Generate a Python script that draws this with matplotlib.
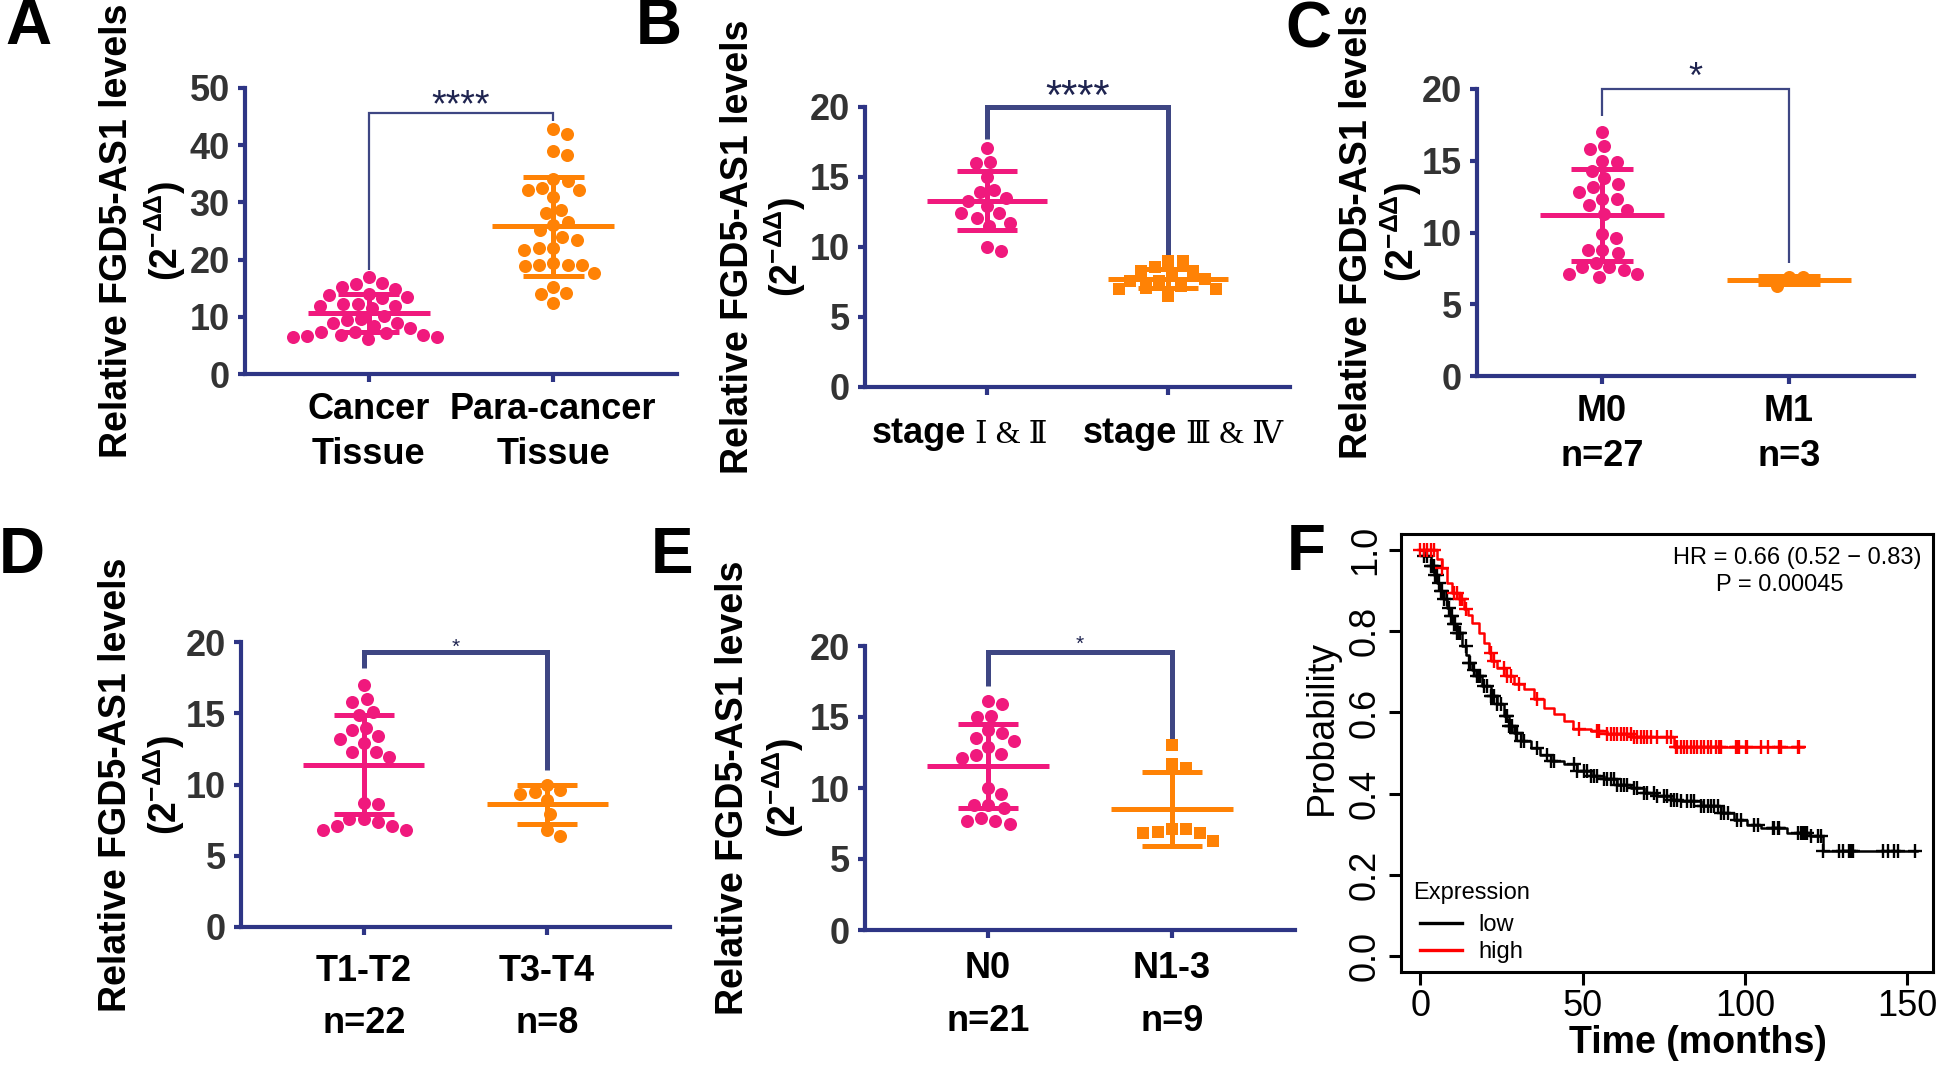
#!/usr/bin/env python3
"""
FGD5-AS1 expression dot plots (A-E) and Kaplan-Meier survival curve (F).
Output: out.png
"""
import numpy as np
import matplotlib
matplotlib.use("Agg")
import matplotlib.pyplot as plt
from matplotlib import font_manager
from matplotlib.lines import Line2D

# ---------------- values ----------------
# A: cancer vs para-cancer tissue
A_LABELS = ["Cancer\nTissue", "Para-cancer\nTissue"]
A_CANCER = [16.9, 15.2, 15.9, 14.9, 15.8, 14.0, 13.2, 13.8, 13.5, 12.3, 11.9, 11.5,
            11.9, 12.3, 10.2, 9.7, 9.5, 8.9, 8.4, 8.9, 8.0, 7.4, 7.1, 6.8, 6.4, 6.1,
            6.4, 6.7, 6.8, 7.4]
A_PARA = [42.8, 41.9, 38.9, 38.2, 33.7, 34.1, 32.2, 32.1, 32.5, 30.9, 28.2, 28.7,
          26.5, 26.0, 25.2, 24.0, 23.5, 22.0, 21.6, 22.0, 19.4, 19.1, 19.0, 17.6,
          18.8, 19.1, 14.1, 14.0, 15.2, 12.5]
A_MEAN = [10.7, 25.8]
A_SD = [3.35, 8.6]
A_BRACKET = [45.7, 18.2, 44.2]      # bar height, left leg end, right leg end
A_SIG = "****"

# B: clinical stage
B_LABELS = [("stage", "Ⅰ & Ⅱ"), ("stage", "Ⅲ & Ⅳ")]
B_EARLY = [17.1, 16.0, 16.1, 15.0, 14.1, 13.5, 13.9, 12.9, 13.3, 12.4, 12.1, 12.4,
           11.7, 11.5, 10.0, 9.7]
B_LATE = [9.0, 9.0, 8.6, 8.3, 8.3, 7.6, 7.6, 8.0, 7.7, 7.1, 7.2, 7.0, 7.0, 6.5]
B_MEAN = [13.3, 7.75]
B_SD = [2.1, 0.65]
B_BRACKET = [20.0, 17.7, 9.3]
B_SIG = "****"

# C: distant metastasis
C_LABELS = ["M0\nn=27", "M1\nn=3"]
C_M0 = [17.0, 15.8, 16.0, 14.9, 15.0, 13.4, 14.3, 13.8, 12.8, 13.2, 12.3, 12.3,
        11.6, 11.9, 11.3, 9.9, 9.6, 8.8, 8.6, 8.8, 7.9, 7.6, 7.6, 7.1, 6.9, 7.1, 7.4]
C_M1 = [6.9, 6.9, 6.3]
C_MEAN = [11.2, 6.7]
C_SD = [3.2, 0.3]
C_BRACKET = [20.0, 18.1, 7.9]
C_SIG = "*"

# D: T stage
D_LABELS = ["T1-T2\nn=22", "T3-T4\nn=8"]
D_T12 = [17.0, 15.8, 16.0, 14.9, 15.1, 14.0, 13.8, 13.4, 13.2, 12.9, 12.3, 12.3,
         11.9, 8.7, 8.6, 7.6, 7.4, 7.6, 7.1, 6.8, 6.8, 7.1]
D_T34 = [9.6, 10.0, 9.3, 9.5, 8.9, 7.9, 6.8, 6.4]
D_MEAN = [11.4, 8.6]
D_SD = [3.5, 1.4]
D_BRACKET = [19.3, 18.2, 11.0]
D_SIG = "*"

# E: lymph node status
E_LABELS = ["N0\nn=21", "N1-3\nn=9"]
E_N0 = [15.9, 16.1, 15.0, 15.1, 14.1, 13.9, 13.5, 13.3, 12.9, 12.4, 12.1, 12.3,
        10.0, 9.6, 8.8, 8.8, 8.6, 7.9, 7.7, 7.5, 7.7]
E_N13 = [13.0, 11.7, 11.4, 7.1, 6.8, 6.9, 6.8, 7.1, 6.3]
E_MEAN = [11.55, 8.55]
E_SD = [2.95, 2.6]
E_BRACKET = [19.6, 17.2, 13.4]
E_SIG = "*"

# F: Kaplan-Meier, low vs high expression (months, survival probability)
LOW_T = [0, 1.0, 3.1, 4.2, 5.2, 6.2, 7.2, 8.3, 9.3, 10.3, 11.3, 12.9, 14.0, 14.9,
         16.0, 17.0, 19.0, 21.6, 23.7, 25.7, 27.3, 28.8, 30.9, 34.0, 37.0, 40.1,
         44.2, 48.4, 52.5, 56.6, 60.7, 64.8, 68.9, 73.0, 77.2, 80.2, 86.4, 92.6,
         96.7, 100.8, 104.9, 113.1, 120.0, 124.0]
LOW_S = [1.0, 0.985, 0.961, 0.94, 0.92, 0.90, 0.879, 0.858, 0.838, 0.818, 0.797,
         0.764, 0.742, 0.723, 0.705, 0.69, 0.665, 0.640, 0.620, 0.591, 0.566, 0.550,
         0.529, 0.513, 0.496, 0.480, 0.472, 0.455, 0.443, 0.435, 0.422, 0.414,
         0.402, 0.393, 0.385, 0.381, 0.369, 0.352, 0.336, 0.323, 0.315, 0.303,
         0.295, 0.259]
LOW_END = 153.0
LOW_CENSOR = [1.0, 2.1, 3.1, 3.6, 4.1, 4.6, 5.1, 5.7, 6.2, 6.7, 7.2, 8.2, 8.8, 9.3,
              9.8, 10.3, 10.8, 11.3, 11.8, 12.3, 13.9, 14.9, 15.4, 16.5, 17.5, 18.0,
              18.5, 19.5, 20.6, 21.6, 22.1, 22.6, 23.7, 24.7, 26.3, 26.7, 27.3, 27.8,
              28.3, 29.3, 29.8, 30.9, 31.9, 36.0, 39.1, 40.1, 41.2, 47.3, 48.4, 50.4,
              51.4, 52.5, 53.5, 54.5, 56.6, 57.6, 58.6, 59.7, 60.7, 61.7, 62.8, 63.8,
              65.8, 66.9, 68.9, 69.9, 72.0, 73.0, 75.1, 76.1, 77.2, 78.2, 79.2, 80.2,
              82.3, 83.3, 84.4, 86.4, 87.4, 88.5, 89.5, 90.5, 91.6, 92.6, 93.6, 94.7,
              97.7, 98.8, 102.9, 103.9, 108.6, 109.1, 110.1, 110.6, 116.3, 117.3,
              117.8, 118.4, 119.3, 120.4, 122.4, 123.5, 124.0, 129.1, 130.2, 132.2,
              132.7, 133.3, 142.5, 144.1, 146.1, 147.2, 152.3]
HIGH_T = [0, 5.2, 6.7, 8.2, 9.8, 11.8, 13.4, 14.5, 16.0, 18.0, 19.6, 21.1, 21.7,
          23.7, 26.3, 28.8, 31.9, 35.0, 38.1, 41.2, 44.2, 46.9, 52.5, 57.6, 65.0,
          78.2]
HIGH_S = [1.0, 0.978, 0.957, 0.920, 0.895, 0.879, 0.854, 0.840, 0.821, 0.797, 0.772,
          0.747, 0.727, 0.710, 0.690, 0.669, 0.657, 0.632, 0.612, 0.595, 0.579,
          0.560, 0.554, 0.546, 0.540, 0.516]
HIGH_END = 118.0
HIGH_CENSOR = [0.0, 1.0, 2.1, 3.1, 4.1, 6.7, 10.3, 11.3, 12.3, 12.9, 13.9, 21.6,
               22.6, 25.7, 26.7, 27.8, 30.3, 36.0, 48.9, 54.5, 55.0, 57.6, 58.6, 59.7,
               60.7, 61.7, 62.8, 63.8, 64.8, 65.8, 66.9, 67.9, 68.9, 69.9, 71.0, 73.0,
               76.1, 77.2, 78.7, 79.2, 80.2, 81.3, 82.3, 83.3, 84.4, 85.4, 86.4, 87.4,
               88.5, 89.5, 91.0, 92.1, 92.6, 97.2, 97.7, 98.3, 100.3, 100.8, 104.9,
               107.0, 110.6, 111.1, 116.3, 116.8]
HR_TEXT = "HR = 0.66 (0.52 \u2212 0.83)"
P_TEXT = "P = 0.00045"

# ---------------- style ----------------
PINK = "#F0197D"
ORANGE = "#FF8205"
NAVY = "#2E3585"
BRACKET_C = "#3E4683"
STAR_C = "#1F2450"
W, H = 1946, 1067


def pick_font(names):
    for name in names:
        try:
            font_manager.findfont(font_manager.FontProperties(family=name),
                                  fallback_to_default=False)
            return name
        except ValueError:
            continue
    return "DejaVu Sans"


SANS = pick_font(["Liberation Sans", "Arial", "DejaVu Sans"])
SERIF = [pick_font(["Liberation Serif", "DejaVu Serif"]), "DejaVu Serif", "Noto Sans CJK SC"]

plt.rcParams["font.family"] = [SANS, "DejaVu Sans"]
plt.rcParams["mathtext.fontset"] = "custom"
plt.rcParams["mathtext.rm"] = SANS
plt.rcParams["mathtext.bf"] = SANS + ":bold"


def px_box(left, right, top, bottom):
    return [left / W, 1 - bottom / H, (right - left) / W, (bottom - top) / H]


def swarm_x(ax, x0, values, diam_px):
    """Beeswarm offsets so dots of diam_px pixels do not overlap."""
    values = np.asarray(values, float)
    disp = ax.transData.transform(np.column_stack([np.full(values.size, x0), values]))
    ys = disp[:, 1]
    ppu = ax.transData.transform((1, 0))[0] - ax.transData.transform((0, 0))[0]
    px_list, py_list = [], []
    offs = np.zeros(values.size)
    for i in np.argsort(-ys):
        y = ys[i]
        cands = [0.0]
        for px, py in zip(px_list, py_list):
            dy = abs(y - py)
            if dy < diam_px:
                dx = np.sqrt(diam_px ** 2 - dy ** 2)
                cands += [px + dx, px - dx]
        cands.sort(key=lambda c: (round(abs(c), 3), -c))
        for c in cands:
            if all((c - px) ** 2 + (y - py) ** 2 >= diam_px ** 2 - 1e-6
                   for px, py in zip(px_list, py_list)):
                break
        px_list.append(c)
        py_list.append(y)
        offs[i] = c
    return x0 + offs / ppu


def dot_panel(fig, box, groups, means, sds, ymax, ystep, markers, xlabels,
              bracket, sig, bracket_lw, sig_size, sig_gap, xpad=7, xspacing=1.38):
    ax = fig.add_axes(px_box(*box))
    ax.set_xlim(-0.67, 1.67)
    ax.set_ylim(0, ymax)
    for side in ("top", "right"):
        ax.spines[side].set_visible(False)
    for side in ("left", "bottom"):
        ax.spines[side].set_linewidth(3)
        ax.spines[side].set_color(NAVY)
    ticks = np.arange(0, ymax + 0.1, ystep)
    ax.set_yticks(ticks, labels=[f"{t:g}" for t in ticks], fontweight="bold",
                  fontsize=26, color="#333333")
    if xlabels is None:
        ax.set_xticks([0, 1], labels=["", ""])
    else:
        ax.set_xticks([0, 1], labels=xlabels, fontweight="bold", fontsize=26,
                      color="black", linespacing=xspacing)
    ax.tick_params(axis="both", color=NAVY, width=3)
    ax.tick_params(axis="y", length=5, pad=6)
    ax.tick_params(axis="x", length=6, pad=xpad)

    for i, (vals, m, s, mk, col) in enumerate(zip(groups, means, sds, markers,
                                                   (PINK, ORANGE))):
        xs = swarm_x(ax, i, vals, 14.5)
        ax.scatter(xs, vals, s=88 if mk == "o" else 72, marker=mk, color=col,
                   linewidths=0, zorder=3, clip_on=False)
        ax.hlines(m, i - 0.33, i + 0.33, color=col, lw=3.6, zorder=4)
        ax.vlines(i, m - s, m + s, color=col, lw=3.6, zorder=4)
        ax.hlines([m - s, m + s], i - 0.165, i + 0.165, color=col, lw=3.6, zorder=4)

    top, l_end, r_end = bracket
    ax.plot([0, 0, 1, 1], [l_end, top, top, r_end], color=BRACKET_C, lw=bracket_lw,
            clip_on=False, solid_joinstyle="miter", solid_capstyle="butt", zorder=2)
    ax.annotate(sig, xy=(0.5, top), xytext=(0, sig_gap), textcoords="offset points",
                ha="center", va="center", fontsize=sig_size, color=STAR_C,
                annotation_clip=False)
    return ax


def y_label(fig, x1, x2, yc):
    fig.text(x1 / W, 1 - yc / H, "Relative FGD5-AS1 levels", rotation=90,
             ha="center", va="center", fontsize=27, fontweight="bold")
    fig.text(x2 / W, 1 - yc / H, r"(2$^{\mathregular{-ΔΔ}}$)", rotation=90,
             ha="center", va="center", fontsize=27, fontweight="bold")


def letter(fig, x, y, s):
    fig.text(x / W, 1 - y / H, s, ha="center", va="center", fontsize=46,
             fontweight="bold")


fig = plt.figure(figsize=(W / 100, H / 100), dpi=100)

# ---- A ----
dot_panel(fig, (245, 677, 88, 374), [A_CANCER, A_PARA], A_MEAN, A_SD, 50, 10,
          ["o", "o"], A_LABELS, A_BRACKET, A_SIG, 1.6, 27, 4.6)
y_label(fig, 117, 165, 231)
letter(fig, 28, 27, "A")

# ---- B ----
axB = dot_panel(fig, (865, 1290, 107, 387), [B_EARLY, B_LATE], B_MEAN, B_SD, 20, 5,
                ["o", "s"], None, B_BRACKET, B_SIG, 3.6, 30, 6.8)
for i, (word, roman) in enumerate(B_LABELS):
    split = -14.5 if i == 0 else 6.5
    axB.annotate(word, xy=(i, 0), xycoords=("data", "axes fraction"),
                 xytext=(split, -40), textcoords="offset points", ha="right",
                 va="baseline", fontsize=26, fontweight="bold",
                 annotation_clip=False)
    axB.annotate(roman, xy=(i, 0), xycoords=("data", "axes fraction"),
                 xytext=(split + 6, -40), textcoords="offset points", ha="left",
                 va="baseline", fontsize=23, family=SERIF, annotation_clip=False)
y_label(fig, 738, 785, 247)
letter(fig, 659, 27, "B")

# ---- C ----
dot_panel(fig, (1477, 1914, 89, 376), [C_M0, C_M1], C_MEAN, C_SD, 20, 5,
          ["o", "o"], C_LABELS, C_BRACKET, C_SIG, 1.6, 26, 7.7)
y_label(fig, 1357, 1401, 232)
letter(fig, 1308, 30, "C")

# ---- D ----
dot_panel(fig, (241, 670, 642, 927), [D_T12, D_T34], D_MEAN, D_SD, 20, 5,
          ["o", "o"], D_LABELS, D_BRACKET, D_SIG, 3.6, 15, 3,
          xpad=13.5, xspacing=1.63)
y_label(fig, 116, 164, 785)
letter(fig, 22, 556, "D")

# ---- E ----
dot_panel(fig, (865, 1295, 646, 930), [E_N0, E_N13], E_MEAN, E_SD, 20, 5,
          ["o", "s"], E_LABELS, E_BRACKET, E_SIG, 3.6, 15, 5.5,
          xpad=9, xspacing=1.67)
y_label(fig, 733, 783, 788)
letter(fig, 672, 556, "E")

# ---- F: Kaplan-Meier ----
axF = fig.add_axes(px_box(1401, 1933, 534, 972))
for sp in axF.spines.values():
    sp.set_linewidth(2.2)


def surv_at(times, surv, t):
    idx = np.searchsorted(times, t, side="right") - 1
    return np.asarray(surv)[idx]


for t, s, end, cens, col in ((LOW_T, LOW_S, LOW_END, LOW_CENSOR, "black"),
                             (HIGH_T, HIGH_S, HIGH_END, HIGH_CENSOR, "#FF0000")):
    axF.step(list(t) + [end], list(s) + [s[-1]], where="post", color=col, lw=1.8)
    axF.plot(cens, surv_at(t, s, cens), ls="none", marker="+", ms=10, mew=1.7,
             color=col)

axF.set_xlim(-6, 158)
axF.set_ylim(-0.04, 1.04)
axF.set_xticks([0, 50, 100, 150], labels=["0", "50", "100", "150"], fontsize=26)
yt = [0.0, 0.2, 0.4, 0.6, 0.8, 1.0]
axF.set_yticks(yt, labels=[f"{v:.1f}" for v in yt], fontsize=26, rotation=90,
               va="center")
axF.tick_params(axis="both", length=9, width=2.2)
axF.tick_params(axis="y", pad=4)
axF.tick_params(axis="x", pad=3)
axF.text(-0.1485, 0.559, "Probability", transform=axF.transAxes, rotation=90,
         ha="center", va="center", fontsize=27)
axF.text(0.558, -0.162, "Time (months)", transform=axF.transAxes, ha="center",
         va="center", fontsize=27, fontweight="bold")
axF.text(0.744, 0.945, HR_TEXT, transform=axF.transAxes, ha="center", va="center",
         fontsize=17)
axF.text(0.711, 0.884, P_TEXT, transform=axF.transAxes, ha="center", va="center",
         fontsize=17)
axF.text(0.0226, 0.18, "Expression", transform=axF.transAxes, ha="left",
         va="center", fontsize=17)
handles = [Line2D([], [], color="black", lw=2.4), Line2D([], [], color="#FF0000", lw=2.4)]
axF.legend(handles, ["low", "high"], loc="center left", bbox_to_anchor=(0.035, 0.076),
           frameon=False, fontsize=17, handlelength=1.8, handletextpad=0.7,
           labelspacing=0.2, borderpad=0, borderaxespad=0)
letter(fig, 1306, 553, "F")

fig.savefig("out.png", dpi=100)
